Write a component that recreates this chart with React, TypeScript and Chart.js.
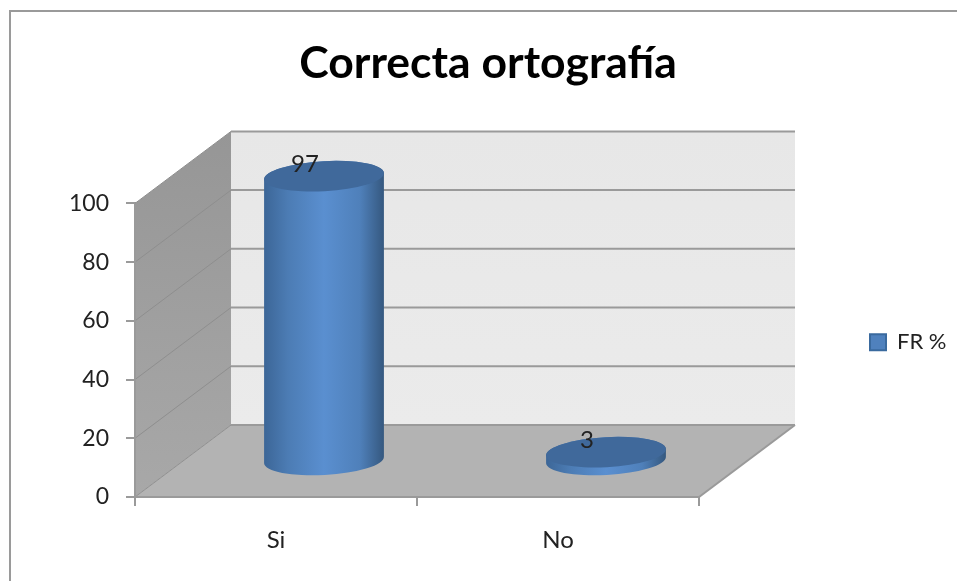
import React, { useEffect, useRef } from "react";
import { Chart, registerables } from "chart.js";

Chart.register(...registerables);

const categories = ["Si", "No"];
const seriesName = "FR %";
const seriesValues = [97, 3];
const yTicks = { min: 0, max: 100, step: 20 };
const titleText = "Correcta ortografía";

const DEPTH_X = 96;
const DEPTH_Y = -72;
const FONT = "Lato, 'Open Sans', sans-serif";
const TEXT = "#222222";
const LINE = "#9a9a9a";

const wallsPlugin = {
  id: "walls",
  beforeLayout(chart: any) {
    const lg = chart.legend;
    if (lg && !lg.__wideFit) {
      const fit = lg.fit;
      lg.fit = function () {
        fit.call(this);
        this.width = 256;
      };
      lg.__wideFit = true;
    }
  },
  afterLayout(chart: any) {
    const lg = chart.legend;
    if (lg) {
      lg.top -= 8;
      lg.bottom -= 8;
      lg.left = 862;
      lg.right = 955;
    }
  },
  beforeDraw(chart: any) {
    const { ctx, width, height } = chart;
    ctx.save();
    ctx.fillStyle = "#ffffff";
    ctx.fillRect(0, 0, width, height);
    ctx.strokeStyle = LINE;
    ctx.lineWidth = 2;
    ctx.beginPath();
    ctx.moveTo(10, height);
    ctx.lineTo(10, 11);
    ctx.lineTo(width, 11);
    ctx.stroke();
    ctx.restore();
  },
  beforeDatasetsDraw(chart: any) {
    const { ctx, chartArea: a, scales } = chart;
    const y = scales.y;
    const bx0 = a.left + DEPTH_X;
    const bx1 = a.right + DEPTH_X;
    const by0 = a.top + DEPTH_Y;
    const by1 = a.bottom + DEPTH_Y;
    ctx.save();
    // back wall
    const bg = ctx.createLinearGradient(0, by0, 0, by1);
    bg.addColorStop(0, "#e7e7e7");
    bg.addColorStop(1, "#ebebeb");
    ctx.fillStyle = bg;
    ctx.fillRect(bx0, by0, bx1 - bx0, by1 - by0);
    // side wall
    const lg = ctx.createLinearGradient(0, by0, 0, a.bottom);
    lg.addColorStop(0, "#969696");
    lg.addColorStop(1, "#a8a8a8");
    ctx.fillStyle = lg;
    ctx.beginPath();
    ctx.moveTo(a.left, a.top);
    ctx.lineTo(bx0, by0);
    ctx.lineTo(bx0, by1);
    ctx.lineTo(a.left, a.bottom);
    ctx.closePath();
    ctx.fill();
    // floor
    ctx.fillStyle = "#b3b3b3";
    ctx.beginPath();
    ctx.moveTo(a.left, a.bottom);
    ctx.lineTo(bx0, by1);
    ctx.lineTo(bx1, by1);
    ctx.lineTo(a.right, a.bottom);
    ctx.closePath();
    ctx.fill();
    // grid lines from the value scale
    y.ticks.forEach((t: any) => {
      const py = y.getPixelForValue(t.value);
      ctx.strokeStyle = "#8e8e8e";
      ctx.lineWidth = 1;
      ctx.beginPath();
      ctx.moveTo(a.left, py);
      ctx.lineTo(bx0, py + DEPTH_Y);
      ctx.stroke();
      ctx.strokeStyle = LINE;
      ctx.lineWidth = 2;
      ctx.beginPath();
      ctx.moveTo(bx0, py + DEPTH_Y);
      ctx.lineTo(bx1, py + DEPTH_Y);
      ctx.stroke();
    });
    // frame edges
    ctx.strokeStyle = LINE;
    ctx.lineWidth = 2;
    ctx.beginPath();
    ctx.moveTo(a.left, a.top);
    ctx.lineTo(a.left, a.bottom);
    ctx.lineTo(a.right, a.bottom);
    ctx.lineTo(bx1, by1);
    ctx.stroke();

    // cylinders
    const meta = chart.getDatasetMeta(0);
    meta.data.forEach((el: any) => {
      const cx = el.x + DEPTH_X / 2;
      const topY = el.y + DEPTH_Y / 2;
      const baseY = el.base + DEPTH_Y / 2;
      const rx = el.width / 2;
      const ry = 15;
      const rot = -0.055;
      const side = ctx.createLinearGradient(cx - rx, 0, cx + rx, 0);
      side.addColorStop(0, "#3c6697");
      side.addColorStop(0.2, "#4c7cb4");
      side.addColorStop(0.5, "#5a8fd0");
      side.addColorStop(0.8, "#4f80ba");
      side.addColorStop(1, "#35587f");
      ctx.fillStyle = side;
      ctx.beginPath();
      ctx.ellipse(cx, baseY, rx, ry, rot, 0, Math.PI, false);
      ctx.ellipse(cx, topY, rx, ry, rot, Math.PI, Math.PI * 2, false);
      ctx.closePath();
      ctx.fill();
      ctx.fillStyle = "#40699b";
      ctx.beginPath();
      ctx.ellipse(cx, topY, rx, ry, rot, 0, Math.PI * 2);
      ctx.fill();
    });

    // value labels
    ctx.fillStyle = TEXT;
    ctx.font = `24px ${FONT}`;
    ctx.textAlign = "center";
    ctx.textBaseline = "middle";
    meta.data.forEach((el: any, i: number) => {
      ctx.fillText(String(seriesValues[i]), el.x + 29, el.y - 48);
    });
    ctx.restore();
    return false;
  },
};

export default function App() {
  const ref = useRef<HTMLCanvasElement>(null);
  useEffect(() => {
    document.body.style.margin = "0";
    const chart = new Chart(ref.current as HTMLCanvasElement, {
      type: "bar",
      plugins: [wallsPlugin],
      data: {
        labels: categories,
        datasets: [
          {
            label: seriesName,
            data: seriesValues,
            backgroundColor: "#4f81bd",
            borderColor: "#3a6a9e",
            borderWidth: 2,
            categoryPercentage: 0.4255,
            barPercentage: 1,
          },
        ],
      },
      options: {
        responsive: false,
        animation: false,
        layout: { padding: { left: 21, right: 2, top: 11, bottom: 0 } },
        plugins: {
          tooltip: { enabled: false },
          title: {
            display: true,
            text: titleText,
            color: "#000000",
            font: { family: FONT, size: 44.5, weight: "bold" },
            padding: { top: 26, bottom: 113 },
          },
          legend: {
            position: "right",
            fullSize: false,
            labels: {
              color: TEXT,
              font: { family: FONT, size: 22 },
              boxWidth: 16,
              boxHeight: 16,
              padding: 8,
            },
          },
        },
        scales: {
          x: {
            afterFit: (s: any) => {
              s.height = 84;
            },
            border: { color: LINE, width: 2 },
            grid: { drawOnChartArea: false, color: LINE, tickLength: 9, lineWidth: 2 },
            ticks: { color: TEXT, font: { family: FONT, size: 24 }, padding: 20 },
          },
          y: {
            min: yTicks.min,
            max: yTicks.max,
            afterFit: (s: any) => {
              s.width = 114;
            },
            border: { color: LINE, width: 2 },
            grid: { drawOnChartArea: false, color: LINE, tickLength: 9, lineWidth: 2 },
            ticks: {
              stepSize: yTicks.step,
              color: TEXT,
              font: { family: FONT, size: 23 },
              padding: 17,
            },
          },
        },
      },
    } as any);
    return () => chart.destroy();
  }, []);
  return <canvas ref={ref} width={957} height={581} style={{ display: "block" }} />;
}
